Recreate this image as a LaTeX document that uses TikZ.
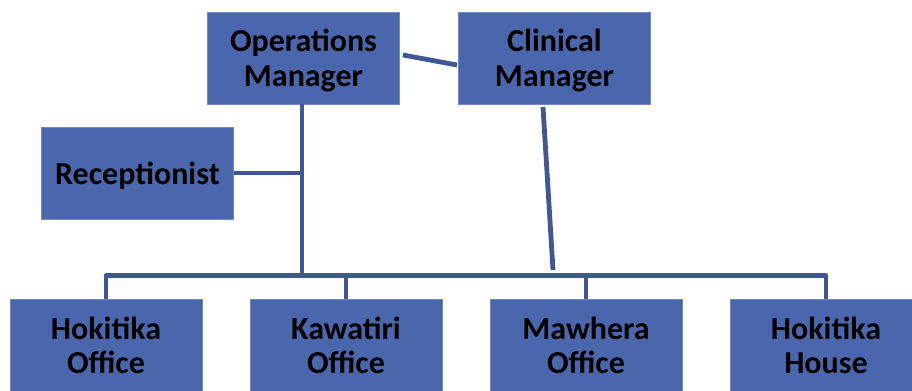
\documentclass[tikz,border=0pt]{standalone}
\usepackage{fontspec}
\setmainfont{Carlito}
\usetikzlibrary{positioning}
\definecolor{BoxFill}{HTML}{4A66AC}
\definecolor{BoxEdge}{HTML}{7089C4}
\definecolor{LinkLine}{HTML}{3F5794}
\tikzset{
	staff/.style={draw=BoxEdge, line width=0.6pt, fill=BoxFill, minimum width=144pt, minimum height=69pt,
		align=center, inner sep=0pt, text depth=0pt, font=\bfseries\fontsize{24}{26}\selectfont, text=black},
	link/.style={draw=LinkLine, line width=3.6pt}
}

\begin{document}
\begin{tikzpicture}[x=0.75pt, y=-0.75pt]
	\useasboundingbox (0,0) rectangle (912,390);
	% managers
	\node[staff] (ops) at (303.5,58) {Operations\\Manager};
	\node[staff] (clin) at (554.5,58) {Clinical\\Manager};
	\node[staff] (rec) at (137.5,173) {Receptionist};
	% offices
	\node[staff, anchor=north] (hok) at (106,299) {Hokitika\\Office};
	\node[staff, anchor=north] (kaw) at (346,299) {Kawatiri\\Office};
	\node[staff, anchor=north] (maw) at (586,299) {Mawhera\\Office};
	\node[staff, anchor=north] (house) at (826,299) {Hokitika\\House};
	% branch points
	\coordinate (hub) at (302,275.5);
	\coordinate (recjoin) at (302,173);
	\coordinate (clinend) at (553,270);
	\coordinate (opsR) at (403,55);
	\coordinate (clinL) at (457,65);
	\draw[link] (opsR) -- (clinL);
	\draw[link] (ops.south -| hub) -- (hub);
	\draw[link] (rec.east) -- (recjoin);
	\draw[link] (543,107) -- (clinend);
	\draw[link, line join=round] (hok.north) -- (hok.north |- hub) -- (house.north |- hub) -- (house.north);
	\draw[link] (kaw.north |- hub) -- (kaw.north);
	\draw[link] (maw.north |- hub) -- (maw.north);
\end{tikzpicture}
\end{document}
